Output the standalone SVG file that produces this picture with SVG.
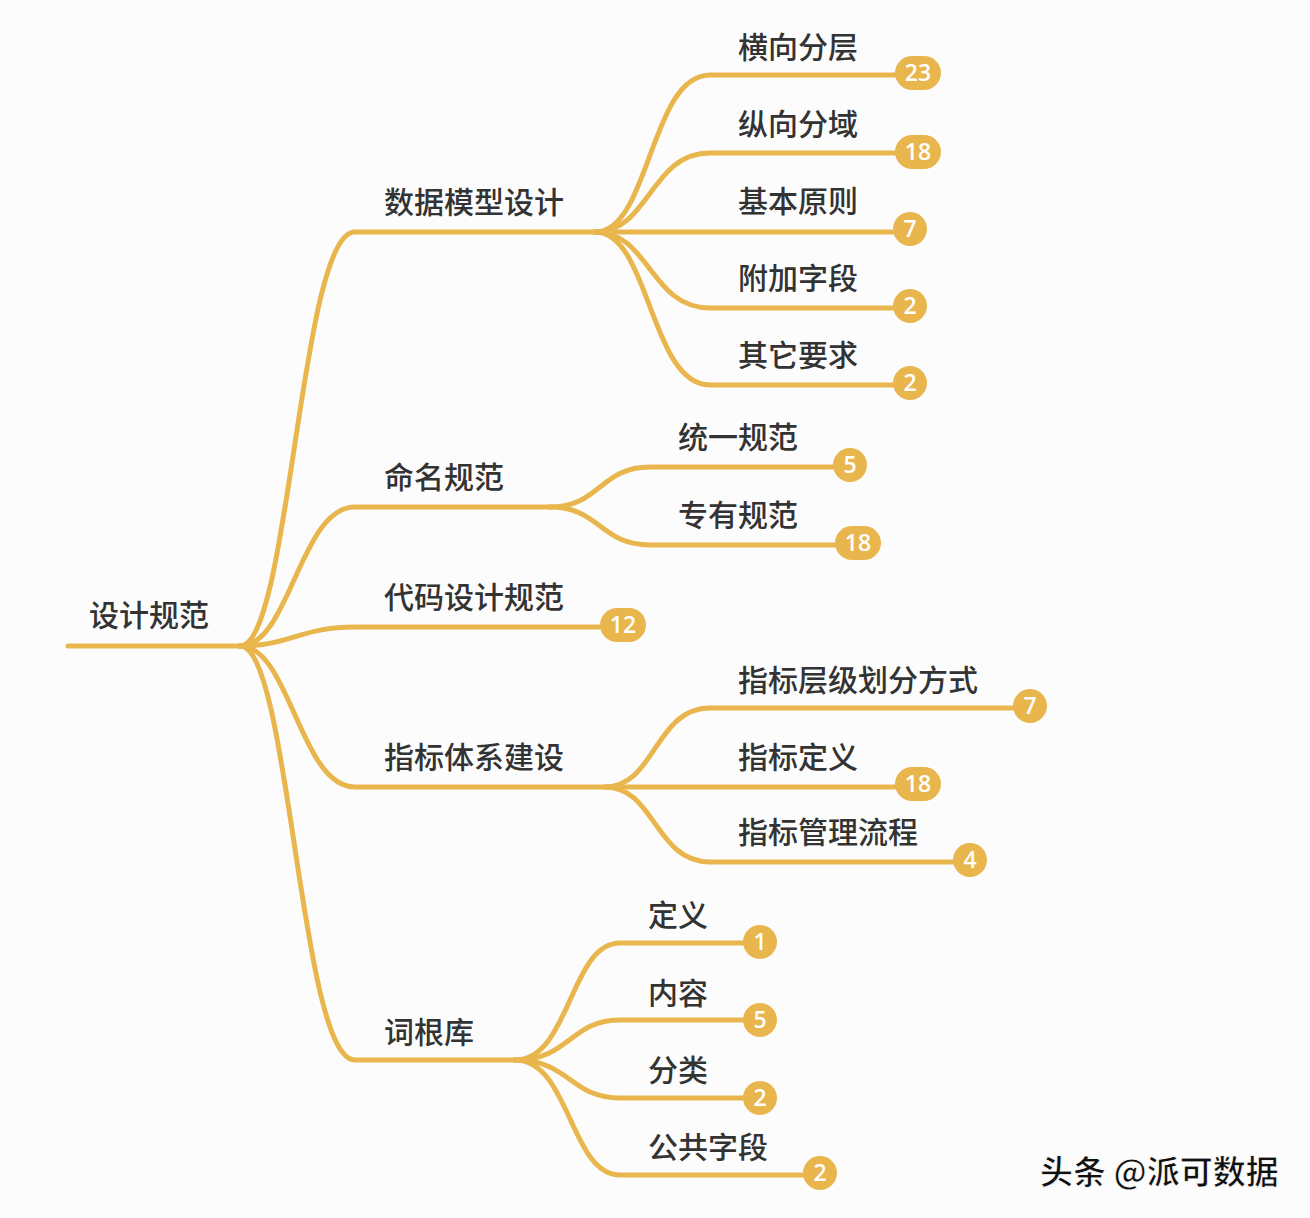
<svg xmlns="http://www.w3.org/2000/svg" width="1310" height="1218" viewBox="0 0 1310 1218">
<style>
.ln{fill:none;stroke:#E9B64E;stroke-width:5;stroke-linecap:round}
.t{font-family:"Noto Sans CJK SC","Noto Sans",sans-serif;font-size:30px;font-weight:500;fill:#333}
.b{fill:#E9B64E}
.bt{font-family:"Open Sans","Liberation Sans",sans-serif;font-size:23px;font-weight:600;fill:#fff;text-anchor:middle}
</style>
<rect width="1310" height="1218" fill="#FCFCFC"/>
<g id="connectors">
<path class="ln" d="M68,646 H240"/>
<path class="ln" d="M240,646 C290,646 300,232 355,232 H595"/>
<path class="ln" d="M240,646 C290,646 300,507 355,507 H550"/>
<path class="ln" d="M240,646 C290,646 300,627 355,627 H605"/>
<path class="ln" d="M240,646 C290,646 300,787 355,787 H605"/>
<path class="ln" d="M240,646 C290,646 300,1060 355,1060 H515"/>
<path class="ln" d="M595,232 C650,232 650,75 710,75 H900"/>
<path class="ln" d="M595,232 C650,232 650,153 710,153 H900"/>
<path class="ln" d="M595,232 H895"/>
<path class="ln" d="M595,232 C650,232 650,308 710,308 H895"/>
<path class="ln" d="M595,232 C650,232 650,385 710,385 H895"/>
<path class="ln" d="M550,507 C600,507 600,467 650,467 H835"/>
<path class="ln" d="M550,507 C600,507 600,545 650,545 H840"/>
<path class="ln" d="M605,787 C655,787 655,708 710,708 H1015"/>
<path class="ln" d="M605,787 H900"/>
<path class="ln" d="M605,787 C655,787 655,862 710,862 H955"/>
<path class="ln" d="M515,1060 C570,1060 570,943 620,943 H745"/>
<path class="ln" d="M515,1060 C570,1060 570,1020 620,1020 H745"/>
<path class="ln" d="M515,1060 C570,1060 570,1098 620,1098 H745"/>
<path class="ln" d="M515,1060 C570,1060 570,1175 620,1175 H805"/>
</g>
<g id="root"><text class="t" x="89" y="626">设计规范</text></g>
<g id="n1"><text class="t" x="384" y="213">数据模型设计</text></g>
<g id="n2"><text class="t" x="384" y="488">命名规范</text></g>
<g id="n3"><text class="t" x="384" y="608">代码设计规范</text><rect class="b" x="600" y="608" width="46" height="34" rx="17"/><text class="bt" x="623" y="633">12</text></g>
<g id="n4"><text class="t" x="384" y="768">指标体系建设</text></g>
<g id="n5"><text class="t" x="384" y="1043">词根库</text></g>
<g id="n11"><text class="t" x="738" y="58">横向分层</text><rect class="b" x="895" y="56" width="46" height="34" rx="17"/><text class="bt" x="918" y="81">23</text></g>
<g id="n12"><text class="t" x="738" y="135">纵向分域</text><rect class="b" x="895" y="135" width="46" height="34" rx="17"/><text class="bt" x="918" y="160">18</text></g>
<g id="n13"><text class="t" x="738" y="212">基本原则</text><circle class="b" cx="910" cy="229" r="17"/><text class="bt" x="910" y="237">7</text></g>
<g id="n14"><text class="t" x="738" y="289">附加字段</text><circle class="b" cx="910" cy="306" r="17"/><text class="bt" x="910" y="314">2</text></g>
<g id="n15"><text class="t" x="738" y="366">其它要求</text><circle class="b" cx="910" cy="383" r="17"/><text class="bt" x="910" y="391">2</text></g>
<g id="n21"><text class="t" x="678" y="448">统一规范</text><circle class="b" cx="850" cy="465" r="17"/><text class="bt" x="850" y="473">5</text></g>
<g id="n22"><text class="t" x="678" y="526">专有规范</text><rect class="b" x="835" y="526" width="46" height="34" rx="17"/><text class="bt" x="858" y="551">18</text></g>
<g id="n41"><text class="t" x="738" y="691">指标层级划分方式</text><circle class="b" cx="1030" cy="706" r="17"/><text class="bt" x="1030" y="714">7</text></g>
<g id="n42"><text class="t" x="738" y="768">指标定义</text><rect class="b" x="895" y="767" width="46" height="34" rx="17"/><text class="bt" x="918" y="792">18</text></g>
<g id="n43"><text class="t" x="738" y="843">指标管理流程</text><circle class="b" cx="970" cy="860" r="17"/><text class="bt" x="970" y="868">4</text></g>
<g id="n51"><text class="t" x="648" y="926">定义</text><circle class="b" cx="760" cy="942" r="17"/><text class="bt" x="760" y="950">1</text></g>
<g id="n52"><text class="t" x="648" y="1004">内容</text><circle class="b" cx="760" cy="1020" r="17"/><text class="bt" x="760" y="1028">5</text></g>
<g id="n53"><text class="t" x="648" y="1081">分类</text><circle class="b" cx="760" cy="1098" r="17"/><text class="bt" x="760" y="1106">2</text></g>
<g id="n54"><text class="t" x="648" y="1158">公共字段</text><circle class="b" cx="820" cy="1173" r="17"/><text class="bt" x="820" y="1181">2</text></g>
<g id="watermark"><text x="1040" y="1184" font-family="Noto Sans CJK SC,sans-serif" font-size="33" font-weight="700" fill="#111" stroke="#fff" stroke-width="0.8">头条 @派可数据</text></g>
</svg>
